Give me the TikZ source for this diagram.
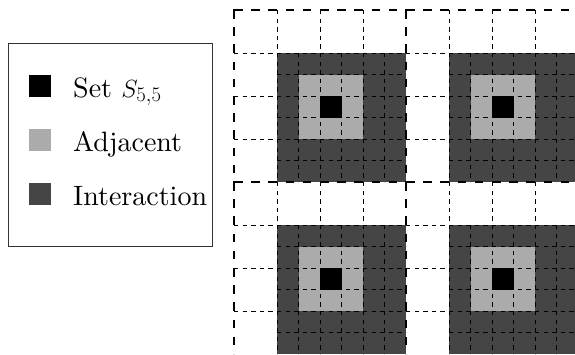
\documentclass[tikz,border=0pt]{standalone}
\usepackage{fontspec}
\setmainfont{lmroman10-regular.otf}
\begin{document}
\begin{tikzpicture}[x=1pt,y=-1pt,
  thindash/.style={draw=black, line width=0.85pt, dash pattern=on 4.3pt off 4.3pt},
  thickdash/.style={draw=black, line width=2.6pt, dash pattern=on 8.6pt off 8.6pt},
  darkc/.style={fill=black!73},
  lightc/.style={fill=black!33},
  blackc/.style={fill=black},
  legsq/.style={minimum size=22pt, inner sep=0pt, outer sep=0pt, draw=none},
  lbl/.style={anchor=base west, inner sep=0pt, font=\fontsize{28}{32}\selectfont}]
\useasboundingbox (0,0) rectangle (575,354);
\begin{scope}
\clip (0,0) rectangle (575,354);
\foreach \i in {0,1}{\foreach \j in {0,1}{
  \pgfmathsetmacro{\bx}{234+172*\i}
  \pgfmathsetmacro{\by}{10+172*\j}
  \fill[darkc] (\bx+43,\by+43) rectangle ++(129,129);
  \fill[lightc] (\bx+64.5,\by+64.5) rectangle ++(64.5,64.5);
  \fill[blackc] (\bx+86,\by+86) rectangle ++(21.5,21.5);
  \foreach \k in {1,...,5}{
    \draw[thindash] (\bx+43+21.5*\k,\by+43) -- ++(0,129);
    \draw[thindash] (\bx+43,\by+43+21.5*\k) -- ++(129,0);
  }
  \foreach \k in {1,2,3}{
    \draw[thindash] (\bx+43*\k,\by) -- ++(0,172);
    \draw[thindash] (\bx,\by+43*\k) -- ++(172,0);
  }
}}
\foreach \i in {0,1}{\foreach \j in {0,1}{
  \pgfmathsetmacro{\bx}{234+172*\i}
  \pgfmathsetmacro{\by}{10+172*\j}
  \draw[thickdash] (\bx,\by) -- ++(172,0);
  \draw[thickdash] (\bx,\by) -- ++(0,172);
  \fill[black] (\bx-1.3,\by-1.3) rectangle ++(1.3,1.3);
}}
\end{scope}
% legend
\node[draw=black!80, line width=0.9pt, minimum width=204pt, minimum height=203pt, inner sep=0pt] (legend) at (110.5,144.5) {};
\node[legsq, fill=black] (sqset) at (40,86) {};
\node[legsq, fill=black!33] (sqadj) at (40,140) {};
\node[legsq, fill=black!73] (sqint) at (40,194) {};
\node[lbl] (tset) at (73,97) {Set $S_{5,5}$};
\node[lbl] (tadj) at (73,151) {Adjacent};
\node[lbl] (tint) at (73,205) {Interaction};
\end{tikzpicture}
\end{document}
